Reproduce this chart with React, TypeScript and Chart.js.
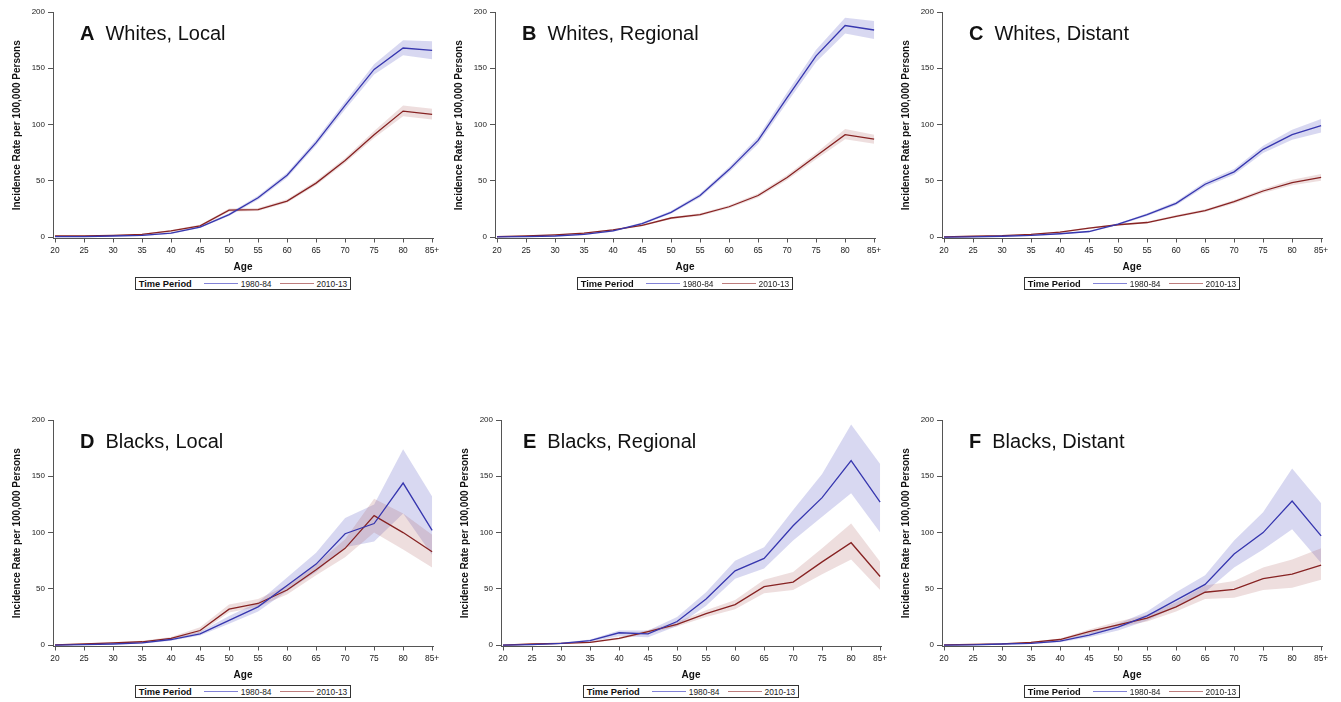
import React, { useEffect, useRef } from 'react';
import { Chart, registerables } from 'chart.js';

Chart.register(...registerables);

// ---------- data ----------
const ageLabels = ['20', '25', '30', '35', '40', '45', '50', '55', '60', '65', '70', '75', '80', '85+'];
const yTickValues = [0, 50, 100, 150, 200];
const periodLabels = ['1980-84', '2010-13'];
const legendTitle = 'Time Period';
const xTitle = 'Age';
const yTitle = 'Incidence Rate per 100,000 Persons';

// A Whites, Local
const aW80 = [0.5, 0.5, 1, 1.5, 3.5, 9, 20, 35, 55, 84, 117, 149, 168, 166];
const aW80Lo = [0.2, 0.3, 0.7, 1.1, 2.9, 8.2, 18.8, 33.3, 52.8, 81.5, 113.5, 144.5, 161.5, 158];
const aW80Hi = [0.8, 0.8, 1.4, 2, 4.2, 9.9, 21.3, 36.8, 57.3, 86.7, 120.5, 153.5, 175, 174];
const aW10 = [1, 1, 1.5, 2.5, 5.5, 10, 24, 24.5, 32, 48, 68, 91, 112, 109];
const aW10Lo = [0.7, 0.7, 1.1, 2, 4.8, 9.1, 22.6, 23.2, 30.5, 46.2, 65.8, 88, 107.5, 104.5];
const aW10Hi = [1.4, 1.4, 2, 3.1, 6.3, 11, 25.5, 25.9, 33.6, 50, 70.4, 94.2, 117, 114];

// B Whites, Regional
const bW80 = [0.3, 0.5, 1, 2.5, 5.5, 12, 22, 37, 60, 86, 124, 161, 188, 184];
const bW80Lo = [0.1, 0.3, 0.7, 2, 4.8, 11, 20.7, 35.2, 57.6, 82.8, 119.5, 155.5, 181, 176];
const bW80Hi = [0.5, 0.8, 1.4, 3, 6.2, 13, 23.4, 38.8, 62.4, 89.2, 128.5, 166.5, 195, 192];
const bW10 = [0.5, 1, 2, 3.5, 6.5, 10.5, 17, 20, 27, 37, 53, 72, 91, 87];
const bW10Lo = [0.3, 0.7, 1.6, 3, 5.8, 9.7, 16, 18.8, 25.6, 35.2, 50.8, 69.2, 87, 83];
const bW10Hi = [0.8, 1.3, 2.4, 4, 7.2, 11.3, 18, 21.2, 28.4, 38.8, 55.2, 74.8, 96, 91];

// C Whites, Distant
const cW80 = [0, 0.3, 0.8, 1.5, 3, 5, 11.5, 20, 30, 47, 58, 78, 91, 99];
const cW80Lo = [0, 0.1, 0.5, 1.1, 2.5, 4.4, 10.6, 18.8, 28.3, 44.8, 55.4, 74.7, 86.5, 93];
const cW80Hi = [0.2, 0.5, 1.1, 1.9, 3.5, 5.6, 12.4, 21.2, 31.7, 49.2, 60.6, 81.3, 95.5, 105];
const cW10 = [0.3, 0.8, 1.3, 2.5, 4.5, 8, 11, 13, 18.5, 23.5, 31.5, 41, 48.5, 53];
const cW10Lo = [0.1, 0.6, 1, 2.1, 4, 7.3, 10.3, 12.2, 17.4, 22.3, 30, 39.2, 46, 50];
const cW10Hi = [0.5, 1, 1.6, 2.9, 5, 8.7, 11.7, 13.8, 19.6, 24.7, 33, 42.8, 51, 56];

// D Blacks, Local
const dB80 = [0, 0.5, 1, 2, 5, 10, 22, 34, 53, 72, 99, 108, 144, 102];
const dB80Lo = [0, 0.1, 0.5, 1.3, 3.8, 8.5, 19, 30, 48, 65, 87, 92, 117, 80];
const dB80Hi = [0.3, 0.9, 1.6, 2.8, 6.3, 12, 26, 38, 60, 82, 113, 125, 174, 132];
const dB10 = [0.3, 1, 2, 3, 6, 13, 32, 37, 49, 67, 86, 115, 100, 83];
const dB10Lo = [0, 0.6, 1.4, 2.2, 4.8, 11, 29, 34, 45, 62, 78, 100, 85, 69];
const dB10Hi = [0.6, 1.5, 2.6, 3.9, 7.3, 16, 36, 41, 53, 72, 94, 130, 117, 98];

// E Blacks, Regional
const eB80 = [0, 0.5, 1.5, 4, 11, 10, 21, 41, 66, 77, 106, 131, 164, 127];
const eB80Lo = [0, 0.1, 0.8, 3, 8, 7, 17, 35, 59, 68, 93, 114, 135, 100];
const eB80Hi = [0.3, 1, 2.2, 5, 13, 13, 25, 47, 75, 87, 120, 152, 196, 161];
const eB10 = [0, 1, 1.5, 2.5, 6, 12, 18.5, 28, 36, 52, 56, 74, 91, 61];
const eB10Lo = [0, 0.6, 1, 1.8, 5, 10.5, 16.5, 25, 32, 46, 49, 63, 76, 49];
const eB10Hi = [0.3, 1.4, 2, 3.3, 7, 13.5, 20.5, 31, 40, 58, 65, 86, 108, 74];

// F Blacks, Distant
const fB80 = [0, 0.3, 1, 1.5, 3.5, 9, 16, 26, 40, 54, 81, 100, 128, 97];
const fB80Lo = [0, 0.1, 0.5, 1, 2.6, 7, 13, 22, 34, 47, 69, 85, 103, 73];
const fB80Hi = [0.2, 0.6, 1.5, 2.1, 4.4, 11, 19, 30, 47, 62, 93, 118, 157, 126];
const fB10 = [0.2, 0.7, 1.2, 2.5, 5, 12, 18, 24, 34, 47, 49.5, 59, 63, 71];
const fB10Lo = [0, 0.4, 0.8, 1.9, 4.1, 10, 16, 21, 30, 41, 42, 49, 51, 58];
const fB10Hi = [0.4, 1, 1.6, 3.1, 5.9, 14, 21, 27, 38, 53, 57, 69, 76, 86];

// ---------- styles ----------
const FONT = '"Liberation Sans", Arial, Helvetica, sans-serif';
const BLUE = 'rgb(55,55,175)';
const RED = 'rgb(135,35,35)';
const BLUE_BAND = 'rgba(100,100,200,0.25)';
const RED_BAND = 'rgba(170,90,90,0.2)';
const BLUE_LEG = 'rgb(130,130,215)';
const RED_LEG = 'rgb(190,125,125)';
const AXIS = '#555';

const CANVAS_W = 447;
const CANVAS_H = 275;
const Y_AXIS_W = 53;
const RIGHT_PAD = 14;
const TOP_PAD = 12;
const X_AXIS_H = 36.5;

type PanelDef = {
  letter: string;
  title: string;
  s1: number[]; s1Lo: number[]; s1Hi: number[];
  s2: number[]; s2Lo: number[]; s2Hi: number[];
  left: number; top: number; labelX: number;
};

const panels: PanelDef[] = [
  { letter: 'A', title: 'Whites, Local', s1: aW80, s1Lo: aW80Lo, s1Hi: aW80Hi, s2: aW10, s2Lo: aW10Lo, s2Hi: aW10Hi, left: 0, top: 0, labelX: 80 },
  { letter: 'B', title: 'Whites, Regional', s1: bW80, s1Lo: bW80Lo, s1Hi: bW80Hi, s2: bW10, s2Lo: bW10Lo, s2Hi: bW10Hi, left: 442, top: 0, labelX: 80 },
  { letter: 'C', title: 'Whites, Distant', s1: cW80, s1Lo: cW80Lo, s1Hi: cW80Hi, s2: cW10, s2Lo: cW10Lo, s2Hi: cW10Hi, left: 889, top: 0, labelX: 80 },
  { letter: 'D', title: 'Blacks, Local', s1: dB80, s1Lo: dB80Lo, s1Hi: dB80Hi, s2: dB10, s2Lo: dB10Lo, s2Hi: dB10Hi, left: 0, top: 408, labelX: 80 },
  { letter: 'E', title: 'Blacks, Regional', s1: eB80, s1Lo: eB80Lo, s1Hi: eB80Hi, s2: eB10, s2Lo: eB10Lo, s2Hi: eB10Hi, left: 448, top: 408, labelX: 75 },
  { letter: 'F', title: 'Blacks, Distant', s1: fB80, s1Lo: fB80Lo, s1Hi: fB80Hi, s2: fB10, s2Lo: fB10Lo, s2Hi: fB10Hi, left: 889, top: 408, labelX: 80 },
];

const toPts = (arr: number[]) => arr.map((v, i) => ({ x: i, y: v }));

function Panel({ def }: { def: PanelDef }) {
  const ref = useRef<HTMLCanvasElement>(null);

  useEffect(() => {
    if (!ref.current) return;
    const lineDs = (label: string, data: number[], color: string) => ({
      label,
      data: toPts(data),
      borderColor: color,
      borderWidth: 1.3,
      pointRadius: 0,
      fill: false,
      tension: 0,
      order: 0,
    });
    const bandDs = (label: string, data: number[], color: string, fill: any, order: number) => ({
      label,
      data: toPts(data),
      borderColor: 'rgba(0,0,0,0)',
      borderWidth: 0,
      backgroundColor: color,
      pointRadius: 0,
      fill,
      tension: 0,
      order,
    });

    const chart = new Chart(ref.current, {
      type: 'line',
      data: {
        datasets: [
          lineDs(periodLabels[0], def.s1, BLUE),
          lineDs(periodLabels[1], def.s2, RED),
          bandDs('hi1', def.s1Hi, BLUE_BAND, '+1', 2),
          bandDs('lo1', def.s1Lo, BLUE_BAND, false, 2),
          bandDs('hi2', def.s2Hi, RED_BAND, '+1', 1),
          bandDs('lo2', def.s2Lo, RED_BAND, false, 1),
        ] as any,
      },
      options: {
        animation: false,
        responsive: false,
        maintainAspectRatio: false,
        events: [],
        layout: { padding: { left: 0, right: RIGHT_PAD, top: TOP_PAD, bottom: 0 } },
        plugins: {
          legend: { display: false },
          tooltip: { enabled: false },
          filler: { propagate: false },
        },
        scales: {
          x: {
            type: 'linear',
            min: -0.07,
            max: 13.03,
            afterBuildTicks: (ax: any) => {
              ax.ticks = ageLabels.map((_, i) => ({ value: i }));
            },
            afterFit: (ax: any) => {
              ax.height = X_AXIS_H;
            },
            ticks: {
              autoSkip: false,
              maxRotation: 0,
              minRotation: 0,
              padding: 3,
              color: '#222',
              font: { family: FONT, size: 8.4 },
              callback: (_v: any, i: number) => ageLabels[i],
            },
            grid: { display: true, drawOnChartArea: false, drawTicks: true, tickLength: 4, color: AXIS },
            border: { display: true, color: AXIS, width: 1 },
            title: {
              display: true,
              text: xTitle,
              color: '#111',
              font: { family: FONT, size: 10, weight: 'bold' },
              padding: { top: 0, bottom: 1.5 },
            },
          },
          y: {
            type: 'linear',
            min: -1.2,
            max: 200,
            afterBuildTicks: (ax: any) => {
              ax.ticks = yTickValues.map((v) => ({ value: v }));
            },
            afterFit: (ax: any) => {
              ax.width = Y_AXIS_W;
            },
            ticks: {
              padding: 3,
              color: '#222',
              font: { family: FONT, size: 8 },
            },
            grid: { display: true, drawOnChartArea: false, drawTicks: true, tickLength: 5, color: AXIS },
            border: { display: true, color: AXIS, width: 1 },
            title: {
              display: true,
              text: yTitle,
              color: '#111',
              font: { family: FONT, size: 10, weight: 'bold' },
              padding: { top: 11, bottom: 0 },
            },
          },
        },
      } as any,
    });
    return () => chart.destroy();
  }, [def]);

  const legendLine = (color: string) => (
    <span style={{ display: 'inline-block', width: 34, height: 1.5, background: color }} />
  );

  return (
    <div style={{ position: 'absolute', left: def.left, top: def.top, width: CANVAS_W, height: 295 }}>
      <canvas ref={ref} width={CANVAS_W} height={CANVAS_H} style={{ position: 'absolute', left: 0, top: 0, width: CANVAS_W, height: CANVAS_H }} />
      <div
        style={{
          position: 'absolute',
          left: def.labelX,
          top: 23,
          fontFamily: FONT,
          fontSize: 20,
          lineHeight: '20px',
          whiteSpace: 'nowrap',
          color: '#111',
        }}
      >
        <span style={{ fontWeight: 'bold' }}>{def.letter}</span>
        <span style={{ marginLeft: 11 }}>{def.title}</span>
      </div>
      <div
        style={{
          position: 'absolute',
          left: Y_AXIS_W,
          width: CANVAS_W - Y_AXIS_W - RIGHT_PAD,
          top: 277,
          display: 'flex',
          justifyContent: 'center',
        }}
      >
        <div
          style={{
            boxSizing: 'border-box',
            height: 13,
            border: '1px solid #333',
            display: 'flex',
            alignItems: 'center',
            padding: '0 3px',
            fontFamily: FONT,
            whiteSpace: 'nowrap',
            color: '#222',
          }}
        >
          <span style={{ fontWeight: 'bold', fontSize: 9.3, color: '#111' }}>{legendTitle}</span>
          <span style={{ marginLeft: 12, display: 'flex', alignItems: 'center' }}>{legendLine(BLUE_LEG)}</span>
          <span style={{ marginLeft: 3, fontSize: 8.4 }}>{periodLabels[0]}</span>
          <span style={{ marginLeft: 8, display: 'flex', alignItems: 'center' }}>{legendLine(RED_LEG)}</span>
          <span style={{ marginLeft: 3, fontSize: 8.4 }}>{periodLabels[1]}</span>
        </div>
      </div>
    </div>
  );
}

export default function App() {
  return (
    <div style={{ position: 'absolute', left: 0, top: 0, width: 1341, height: 700, background: '#fff', overflow: 'hidden' }}>
      {panels.map((p) => (
        <Panel key={p.letter} def={p} />
      ))}
    </div>
  );
}
